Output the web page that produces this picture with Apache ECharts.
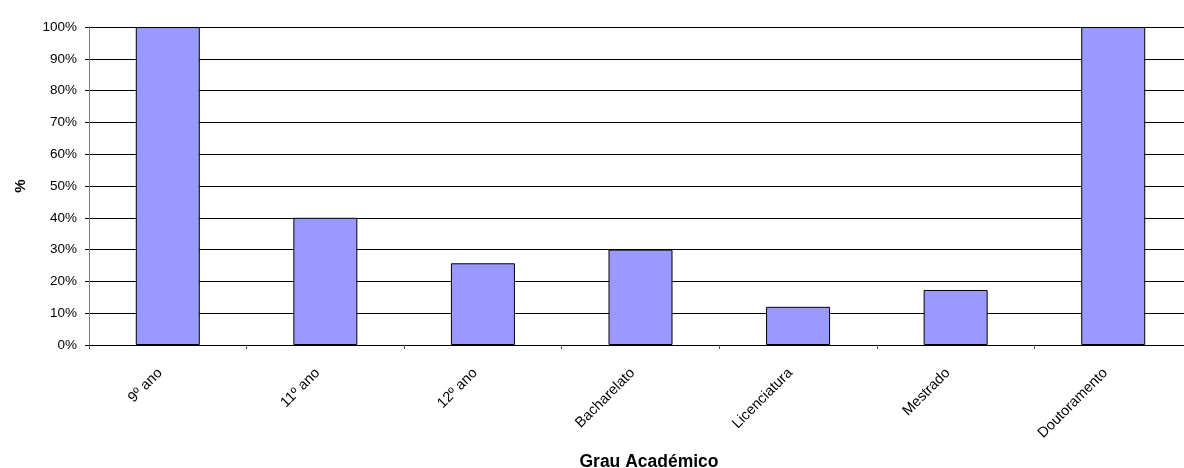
<!DOCTYPE html>
<html>
<head>
<meta charset="utf-8">
<title>Grau Académico</title>
<script src="https://cdn.jsdelivr.net/npm/echarts@6/dist/echarts.min.js"></script>
<style>
  html, body { margin: 0; padding: 0; background: #fff; }
  #chart { width: 1184px; height: 468px; }
</style>
</head>
<body>
<div id="chart"></div>
<script>
// Categories along the horizontal axis
const categories = ['9º ano', '11º ano', '12º ano', 'Bacharelato', 'Licenciatura', 'Mestrado', 'Doutoramento'];
// Share per academic degree, in percent
const values = [100, 40, 25.7, 30, 12, 17.3, 100];
// Vertical axis range and step, in percent
const yMin = 0;
const yMax = 100;
const yStep = 10;

const FONT = '"Liberation Sans", Arial, sans-serif';

const chart = echarts.init(document.getElementById('chart'), null, { renderer: 'canvas' });

chart.setOption({
  animation: false,
  backgroundColor: '#ffffff',
  // the plot runs slightly past the right edge of the canvas
  grid: {
    left: 89, top: 27, width: 1103, height: 318,
    containLabel: false, outerBoundsMode: 'none'
  },
  xAxis: {
    type: 'category',
    data: categories,
    boundaryGap: true,
    name: 'Grau Académico',
    nameLocation: 'middle',
    nameGap: 108,
    nameTextStyle: {
      fontFamily: FONT, fontSize: 17.5, fontWeight: 'bold', color: '#000',
      padding: [0, 0, 0, 17]
    },
    axisLine: { show: true, lineStyle: { color: '#000', width: 1 } },
    axisTick: { show: true, alignWithLabel: false, length: 4, lineStyle: { color: '#555' } },
    axisLabel: {
      rotate: 45, margin: 18, interval: 0,
      padding: [0, 11, 0, 0],
      fontFamily: FONT, fontSize: 14.5, color: '#000'
    },
    splitLine: { show: false }
  },
  yAxis: {
    type: 'value',
    min: yMin,
    max: yMax,
    interval: yStep,
    name: '%',
    nameLocation: 'middle',
    nameRotate: 90,
    nameGap: 61,
    nameTextStyle: { fontFamily: FONT, fontSize: 15, fontWeight: 'bold', color: '#000' },
    axisLine: { show: true, lineStyle: { color: '#808080', width: 1 } },
    axisTick: { show: true, length: 4, lineStyle: { color: '#000' } },
    axisLabel: {
      margin: 12, formatter: '{value}%',
      fontFamily: FONT, fontSize: 13.5, color: '#000'
    },
    splitLine: { show: true, lineStyle: { color: '#000', width: 1 } }
  },
  series: [{
    type: 'bar',
    data: values,
    barWidth: 64,
    itemStyle: { color: '#9999FF', borderColor: '#000', borderWidth: 1 }
  }]
});
</script>
</body>
</html>
